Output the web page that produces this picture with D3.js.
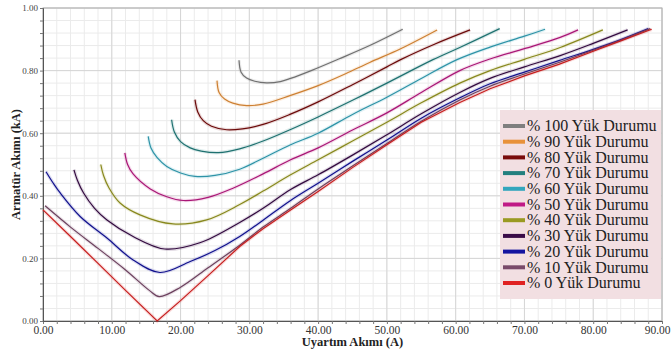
<!DOCTYPE html>
<html>
<head>
<meta charset="utf-8">
<script src="https://cdn.jsdelivr.net/npm/d3@7"></script>
<style>
  body { margin: 0; background: #fff; }
  svg { display: block; }
</style>
</head>
<body>
<div id="chart-area"></div>
<script>
const width = 671;
const height = 351;

// load levels, top of legend first
const loads = [100, 90, 80, 70, 60, 50, 40, 30, 20, 10, 0];
const colors = ["#7f7f7f", "#e8913a", "#7a0c0c", "#23807f", "#34a6bd", "#c01a86",
    "#9a9a22", "#3a0c48", "#1414a0", "#7a4a6a", "#e02222"];

// [uyartim akimi (A), armatur akimi (kA)]
const load100 = [[28.5,0.833],[28.8,0.795],[29.6,0.776],[30.8,0.766],[32.5,0.761],[34.5,0.765],
    [36,0.775],[39,0.80],[43,0.837],[47.5,0.88],[52.3,0.932]];
const load90 = [[25.3,0.768],[25.6,0.73],[26.4,0.709],[27.6,0.696],[29.6,0.688],[32,0.693],
    [35.9,0.72],[40,0.752],[44,0.79],[47.5,0.826],[52,0.87],[57.3,0.93]];
const load80 = [[22.1,0.707],[22.5,0.668],[23.3,0.64],[24.5,0.622],[26.7,0.611],
    [29,0.614],[32,0.628],[35.9,0.66],[40,0.70],[45,0.755],[50,0.812],[52,0.835],[57,0.885],[62.1,0.93]];
const load70 = [[18.7,0.643],[19.1,0.604],[20,0.573],[21.4,0.553],[23,0.543],[25.5,0.538],
    [28.6,0.55],[32,0.575],[36,0.612],[40,0.652],[45,0.705],[50,0.76],[56.7,0.835],[60.6,0.874],[66.4,0.934]];
const load60 = [[15.3,0.59],[15.7,0.553],[16.6,0.522],[18,0.494],[20,0.473],[22.1,0.462],[25,0.465],
    [28.6,0.485],[32,0.52],[36,0.563],[40,0.60],[45,0.66],[50,0.715],[55,0.775],[60.2,0.835],[65,0.875],[70,0.91],[73,0.932]];
const load50 = [[11.9,0.537],[12.3,0.50],[13.1,0.47],[15.6,0.422],[18,0.397],[20.4,0.385],[24,0.395],
    [27.7,0.425],[32,0.47],[36,0.515],[40,0.553],[45,0.61],[50,0.665],[55,0.73],[60.6,0.8],[65,0.837],[70,0.87],[75.2,0.906],[77.8,0.93]];
const load40 = [[8.4,0.50],[8.8,0.465],[9.6,0.425],[11.2,0.377],[14.1,0.339],[18.9,0.31],[23.8,0.323],
    [28.6,0.372],[32,0.415],[36,0.467],[40,0.515],[45,0.575],[50,0.635],[55,0.697],[60.6,0.76],[65,0.80],[70,0.836],[75.2,0.874],[81.4,0.93]];
const load30 = [[4.5,0.483],[5,0.45],[5.9,0.409],[7.5,0.36],[9.3,0.323],[13.1,0.27],[17.7,0.23],
    [22.8,0.25],[28.6,0.315],[32,0.36],[36,0.42],[40,0.467],[45,0.53],[50,0.595],[55,0.662],[60.6,0.73],[65,0.775],[70,0.812],[75.2,0.848],[80,0.887],[85,0.93]];
const load20 = [[0.44,0.477],[1.5,0.44],[2.5,0.409],[5.4,0.334],[9.3,0.265],[13.1,0.195],[17,0.155],
    [21.4,0.19],[25,0.225],[28.6,0.27],[32,0.322],[36,0.385],[40,0.44],[45,0.51],[50,0.578],[55,0.648],[60.6,0.713],[65,0.758],[70,0.795],[75,0.832],[80,0.868],[84,0.899],[88,0.934]];
const load10 = [[0.3,0.368],[4,0.30],[8,0.232],[12,0.163],[15.5,0.097],[16.9,0.078],[20,0.108],
    [24,0.17],[28.6,0.242],[32,0.30],[36,0.36],[40,0.422],[45,0.495],[50,0.567],[55,0.638],[60.6,0.706],[65,0.75],[70,0.789],[75,0.826],[80,0.865],[84,0.897],[88.3,0.934]];
const load0 = [[0,0.355],[4,0.27],[8,0.184],[12,0.098],[16.6,0],[20,0.065],[24,0.145],[28.6,0.238],
    [32,0.295],[36,0.355],[40,0.414],[45,0.49],[50,0.563],[55,0.635],[60.6,0.698],[65,0.742],[70,0.783],[75,0.82],[80,0.862],[84,0.895],[88.5,0.932]];

const seriesPoints = [load100, load90, load80, load70, load60, load50, load40, load30, load20, load10, load0];

const xTicks = [0, 10, 20, 30, 40, 50, 60, 70, 80, 90];
const yTicks = [0, 0.2, 0.4, 0.6, 0.8, 1.0];

const margin = {top: 8, right: 9, bottom: 30, left: 43};

const svg = d3.select("#chart-area")
    .append("svg")
    .attr("width", width)
    .attr("height", height);

const x = d3.scaleLinear().domain([0, 90]).range([margin.left, width - margin.right]);
const y = d3.scaleLinear().domain([0, 1]).range([height - margin.bottom, margin.top]);

// grid, minor then major
const minorX = d3.range(0, 46).map(i => i * 2);
const minorY = d3.range(0, 26).map(i => i * 0.04);

const grid = svg.append("g");
grid.selectAll(".mx").data(minorX).enter().append("line")
    .attr("x1", d => x(d)).attr("x2", d => x(d))
    .attr("y1", y(0)).attr("y2", y(1))
    .attr("stroke", "#ebebeb").attr("stroke-width", 1);
grid.selectAll(".my").data(minorY).enter().append("line")
    .attr("x1", x(0)).attr("x2", x(90))
    .attr("y1", d => y(d)).attr("y2", d => y(d))
    .attr("stroke", "#ebebeb").attr("stroke-width", 1);
grid.selectAll(".jx").data(xTicks).enter().append("line")
    .attr("x1", d => x(d)).attr("x2", d => x(d))
    .attr("y1", y(0)).attr("y2", y(1))
    .attr("stroke", "#d6d6d6").attr("stroke-width", 1);
grid.selectAll(".jy").data(yTicks).enter().append("line")
    .attr("x1", x(0)).attr("x2", x(90))
    .attr("y1", d => y(d)).attr("y2", d => y(d))
    .attr("stroke", "#d6d6d6").attr("stroke-width", 1);

// frame
svg.append("rect")
    .attr("x", x(0)).attr("y", y(1))
    .attr("width", x(90) - x(0)).attr("height", y(0) - y(1))
    .attr("fill", "none").attr("stroke", "#b0b0b0");

// axes
const xAxis = svg.append("g")
    .attr("transform", `translate(0, ${y(0)})`)
    .call(d3.axisBottom(x).tickValues(minorX).tickSize(3)
        .tickFormat(d => d % 10 === 0 ? d3.format(".2f")(d) : ""));
xAxis.select(".domain").attr("stroke", "#555");
xAxis.selectAll(".tick line").attr("stroke", "#777");
xAxis.selectAll("text")
    .style("font-family", "'Liberation Serif', serif")
    .style("font-size", "11.5px")
    .attr("fill", "#333")
    .attr("y", 5);
// last label sits at the window edge
xAxis.selectAll(".tick").filter(d => d === 90).select("text")
    .attr("text-anchor", "end").attr("x", 8);

const yAxis = svg.append("g")
    .attr("transform", `translate(${x(0)}, 0)`)
    .call(d3.axisLeft(y).tickValues(minorY).tickSize(3)
        .tickFormat((d, i) => i % 5 === 0 ? d3.format(".2f")(d) : ""));
yAxis.select(".domain").attr("stroke", "#555");
yAxis.selectAll(".tick line").attr("stroke", "#777");
yAxis.selectAll("text")
    .style("font-family", "'Liberation Serif', serif")
    .style("font-size", "9px")
    .attr("fill", "#444")
    .attr("x", -5);

// axis titles
svg.append("text")
    .attr("x", (x(0) + x(90)) / 2)
    .attr("y", 346)
    .attr("text-anchor", "middle")
    .style("font-family", "'Liberation Serif', serif")
    .style("font-weight", "bold")
    .style("font-size", "12.5px")
    .attr("fill", "#222")
    .text("Uyartım Akımı (A)");

svg.append("text")
    .attr("transform", `translate(20, ${(y(0) + y(1)) / 2}) rotate(-90)`)
    .attr("text-anchor", "middle")
    .style("font-family", "'Liberation Serif', serif")
    .style("font-weight", "bold")
    .style("font-size", "12.5px")
    .attr("fill", "#222")
    .text("Armatür Akımı (kA)");

// curves: 0 % is a sharp V, the rest are smooth
const smoothLine = d3.line()
    .x(d => x(d[0]))
    .y(d => y(d[1]))
    .curve(d3.curveCatmullRom.alpha(0.5));
const sharpLine = d3.line()
    .x(d => x(d[0]))
    .y(d => y(d[1]));

const curves = svg.append("g");
seriesPoints.forEach((pts, i) => {
    const path = loads[i] === 0 ? sharpLine(pts) : smoothLine(pts);
    curves.append("path")
        .attr("d", path)
        .attr("fill", "none")
        .attr("stroke", colors[i])
        .attr("stroke-width", 3.5)
        .attr("stroke-opacity", 0.15);
    curves.append("path")
        .attr("d", path)
        .attr("fill", "none")
        .attr("stroke", d3.color(colors[i]).darker(0.35))
        .attr("stroke-width", 1.2);
});

// legend
const legend = svg.append("g");
legend.append("rect")
    .attr("x", 500).attr("y", 110)
    .attr("width", 161).attr("height", 189)
    .attr("fill", "#f2dfe2");

const rows = legend.selectAll(".row")
    .data(loads)
    .enter().append("g")
    .attr("transform", (d, i) => `translate(503, ${126 + i * 15.7})`);

rows.append("rect")
    .attr("x", 0).attr("y", -2)
    .attr("width", 22).attr("height", 4)
    .attr("fill", (d, i) => colors[i]);

rows.append("text")
    .attr("x", 24)
    .attr("dy", "0.33em")
    .style("font-family", "'Liberation Serif', serif")
    .style("font-size", "16px")
    .attr("fill", "#222")
    .text(d => `% ${d} Yük Durumu`);
</script>
</body>
</html>
